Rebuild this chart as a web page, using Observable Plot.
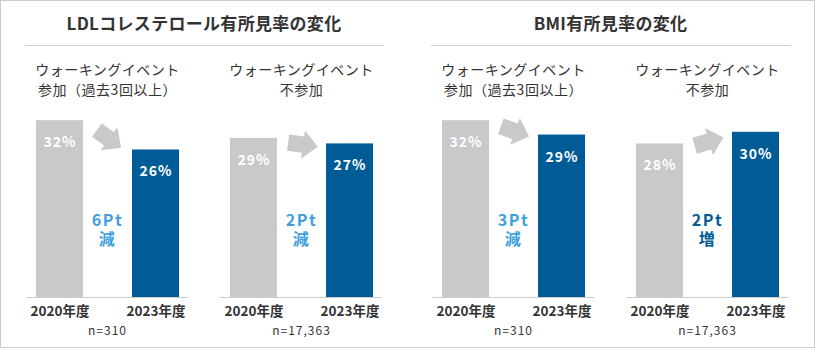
<!DOCTYPE html>
<html><head><meta charset="utf-8">
<script src="https://cdn.jsdelivr.net/npm/d3@7"></script>
<script src="https://cdn.jsdelivr.net/npm/@observablehq/plot@0.6"></script>
<style>
body{margin:0;background:#fff;font-family:"Noto Sans CJK JP","Noto Sans",sans-serif;}
#frame{width:815px;height:348px;box-sizing:border-box;border:1px solid #cccccc;display:flex;}
.panel{flex:none;}
.title{height:44px;line-height:44px;text-align:center;font-size:17px;font-weight:bold;color:#333;letter-spacing:0.3px;}
.rule{height:1px;background:#cccccc;margin:0 23px 0 24px;}
svg{display:block;}
</style></head>
<body><div id="frame"></div>
<script>
// ---- data ----
const panelTitles = ["LDLコレステロール有所見率の変化", "BMI有所見率の変化"];
const groups = ["ウォーキングイベント\n参加（過去3回以上）", "ウォーキングイベント\n不参加"];
const years = ["2020年度", "2023年度"];
const nLabels = ["n=310", "n=17,363"];

const ldlParticipants = [32.0, 26.7];
const ldlNonParticipants = [28.8, 27.8];
const bmiParticipants = [32.0, 29.4];
const bmiNonParticipants = [27.8, 29.9];

const ldlParticipantLabels = ["32%", "26%"];
const ldlNonParticipantLabels = ["29%", "27%"];
const bmiParticipantLabels = ["32%", "29%"];
const bmiNonParticipantLabels = ["28%", "30%"];

const ldlDeltas = ["6Pt\n減", "2Pt\n減"];
const bmiDeltas = ["3Pt\n減", "2Pt\n増"];
const ldlDeltaKinds = ["減", "減"];
const bmiDeltaKinds = ["減", "増"];

// ---- styles ----
const GRAY = "#c8c9cb";
const BLUE = "#005b96";
const LIGHTBLUE = "#40a0dc";
const TEXT = "#333333";
const H = 301, MT = 30, MB = 50, YMAX = 40;
const PX = (H - MT - MB) / YMAX;

const arrowSymbol = {
  draw(ctx, size) {
    const r = Math.sqrt(size / Math.PI);
    const sw = 0.55 * r, hw = 0.95 * r;
    ctx.moveTo(-r, -sw);
    ctx.lineTo(0, -sw);
    ctx.lineTo(0, -hw);
    ctx.lineTo(r, 0);
    ctx.lineTo(0, hw);
    ctx.lineTo(0, sw);
    ctx.lineTo(-r, sw);
    ctx.closePath();
  }
};

function makePanel(title, valueSets, labelSets, deltas, kinds, width) {
  const rows = [];
  groups.forEach((g, i) => years.forEach((y, j) =>
    rows.push({group: g, year: y, value: valueSets[i][j], label: labelSets[i][j]})));
  const per = groups.map((g, i) => ({
    group: g, sub: g, n: nLabels[i], delta: deltas[i],
    color: kinds[i] === "増" ? BLUE : LIGHTBLUE,
    mid: (valueSets[i][0] + valueSets[i][1]) / 2,
    angle: Math.atan2((valueSets[i][0] - valueSets[i][1]) * PX, 40) * 180 / Math.PI
  }));

  const plot = Plot.plot({
    width, height: H, marginTop: MT, marginBottom: MB, marginLeft: 24, marginRight: width - 382,
    style: {fontFamily: '"Noto Sans CJK JP","Noto Sans",sans-serif', background: "transparent", color: TEXT, overflow: "visible"},
    fx: {domain: groups, paddingInner: 0.164, paddingOuter: 0, axis: null},
    x: {domain: years, paddingInner: 0.515, paddingOuter: 0.1, axis: null},
    y: {domain: [0, YMAX], axis: null},
    color: {type: "identity"},
    marks: [
      Plot.barY(rows, {fx: "group", x: "year", y: "value", fill: d => d.year === years[0] ? GRAY : BLUE}),
      Plot.ruleY([0], {stroke: "#cccccc", strokeWidth: 1}),
      Plot.axisX({tickSize: 0, tickPadding: 9, fontSize: 13.5, fontWeight: "bold", fill: TEXT, label: null}),
      Plot.text(rows, {fx: "group", x: "year", y: "value", text: "label", dy: 22, fill: "white", fontSize: 14, fontWeight: "bold"}),
      Plot.dot(per, {fx: "group", y: "mid", r: 15, symbol: arrowSymbol, rotate: "angle", fill: GRAY, stroke: "none", dy: 3.5, dx: 1.5, frameAnchor: "middle"}),
      Plot.text(per, {fx: "group", text: "delta", frameAnchor: "middle", lineAnchor: "middle", dy: 42, fill: "color", fontSize: 16, fontWeight: "bold", lineHeight: 1.2}),
      Plot.text(per, {fx: "group", text: "sub", frameAnchor: "top", lineAnchor: "middle", dy: 2, fontSize: 14, lineHeight: 1.43, fill: TEXT}),
      Plot.text(per, {fx: "group", text: "n", frameAnchor: "bottom", lineAnchor: "middle", dy: 34, fontSize: 12, fill: TEXT})
    ]
  });
  // letter spacing tweaks for the text marks, in mark order
  const spacing = ["1px", "1.5px", "0.5px", "1px"];
  const textGroups = Array.from(plot.querySelectorAll(":scope > g")).filter(g => g.getAttribute("aria-label") === "text");
  textGroups.forEach((g, i) => { if (spacing[i]) g.style.letterSpacing = spacing[i]; });

  const div = document.createElement("div");
  div.className = "panel";
  div.style.width = width + "px";
  const t = document.createElement("div");
  t.className = "title";
  t.textContent = title;
  const r = document.createElement("div");
  r.className = "rule";
  div.append(t, r, plot);
  return div;
}

const frame = document.getElementById("frame");
frame.append(
  makePanel(panelTitles[0], [ldlParticipants, ldlNonParticipants], [ldlParticipantLabels, ldlNonParticipantLabels], ldlDeltas, ldlDeltaKinds, 406),
  makePanel(panelTitles[1], [bmiParticipants, bmiNonParticipants], [bmiParticipantLabels, bmiNonParticipantLabels], bmiDeltas, bmiDeltaKinds, 407)
);
</script>
</body></html>
